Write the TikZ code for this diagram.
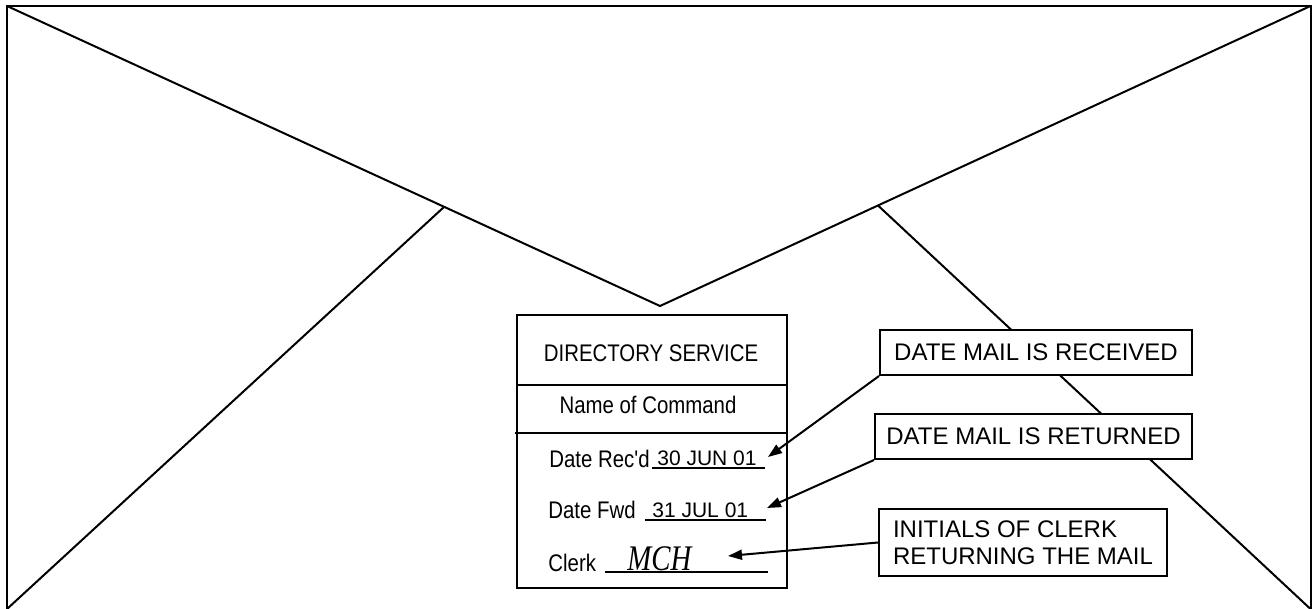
\documentclass[tikz,border=0pt]{standalone}
\usepackage{fontspec}
\setmainfont{Liberation Sans}
\newfontfamily\stampfont[FakeStretch=0.85]{Liberation Sans}
\newfontfamily\sigfont[FakeStretch=0.8]{Liberation Serif}
\usetikzlibrary{arrows.meta}
\begin{document}
\begin{tikzpicture}[x=0.5pt,y=-0.5pt,
  env/.style={line width=1pt},
  stampbox/.style={draw, line width=1.2pt, fill=white},
  rule/.style={line width=1pt},
  stamptext/.style={inner sep=0pt, font=\stampfont\fontsize{12}{14}\selectfont},
  datetext/.style={inner sep=0pt, font=\fontsize{10.5}{12}\selectfont},
  callout/.style={draw, fill=white, line width=1pt, inner sep=0pt,
    font=\fontsize{12}{13.3}\selectfont},
  arr/.style={-{Triangle[length=7pt,width=5pt]}, line width=1pt}]
\useasboundingbox (0,0) rectangle (1312,609);
% envelope
\draw[env] (7,609) -- (7,6) -- (1310.5,6) -- (1310.5,609);
\draw[env] (7,6) -- (660,306) -- (1310.5,6);
\draw[env] (7,609) -- (444,207);
\draw[env] (878,205.5) -- (1310.5,609);
% stamp
\node[stampbox, minimum width=135pt, minimum height=136.5pt] (stamp) at (652,451.5) {};
\draw[line width=1.2pt] (517,385) -- (787,385);
\draw[line width=1.2pt] (515,433) -- (787,433);
\node[stamptext, anchor=base] (dir) at (651,362) {DIRECTORY SERVICE};
\node[stamptext, anchor=base] (cmd) at (648,413) {Name of Command};
\node[stamptext, anchor=base west] (rec) at (549,467) {Date Rec'd};
\node[datetext, anchor=base west] (recd) at (657,465) {30 JUN 01};
\draw[rule] (652,468) -- (765,468);
\node[stamptext, anchor=base west] (fwd) at (548,518) {Date Fwd};
\node[datetext, anchor=base west] (fwdd) at (652,517) {31 JUL 01};
\draw[rule] (645,520) -- (766,520);
\node[stamptext, anchor=base west] (clerk) at (548,571) {Clerk};
\node[inner sep=0pt, anchor=base west, font=\sigfont\itshape\fontsize{18}{20}\selectfont] (sig) at (627,570) {MCH};
\draw[rule] (605,572) -- (768,572);
% callouts
\node[callout, minimum width=156pt, minimum height=22.5pt] (c1) at (1036,352.5) {DATE MAIL IS RECEIVED};
\node[callout, minimum width=158.5pt, minimum height=22.5pt] (c2) at (1033.5,436.5) {DATE MAIL IS RETURNED};
\node[callout, minimum width=144pt, minimum height=33.5pt, align=left, inner xsep=7pt] (c3) at (1023,542.5) {INITIALS OF CLERK\\RETURNING THE MAIL};
\coordinate (t1) at (768,457);
\coordinate (t2) at (767,508);
\coordinate (t3) at (728,556);
\draw[arr] (c1.south west) -- (t1);
\draw[arr] (c2.south west) -- (t2);
\draw[arr] (c3.west) -- (t3);
\end{tikzpicture}
\end{document}
